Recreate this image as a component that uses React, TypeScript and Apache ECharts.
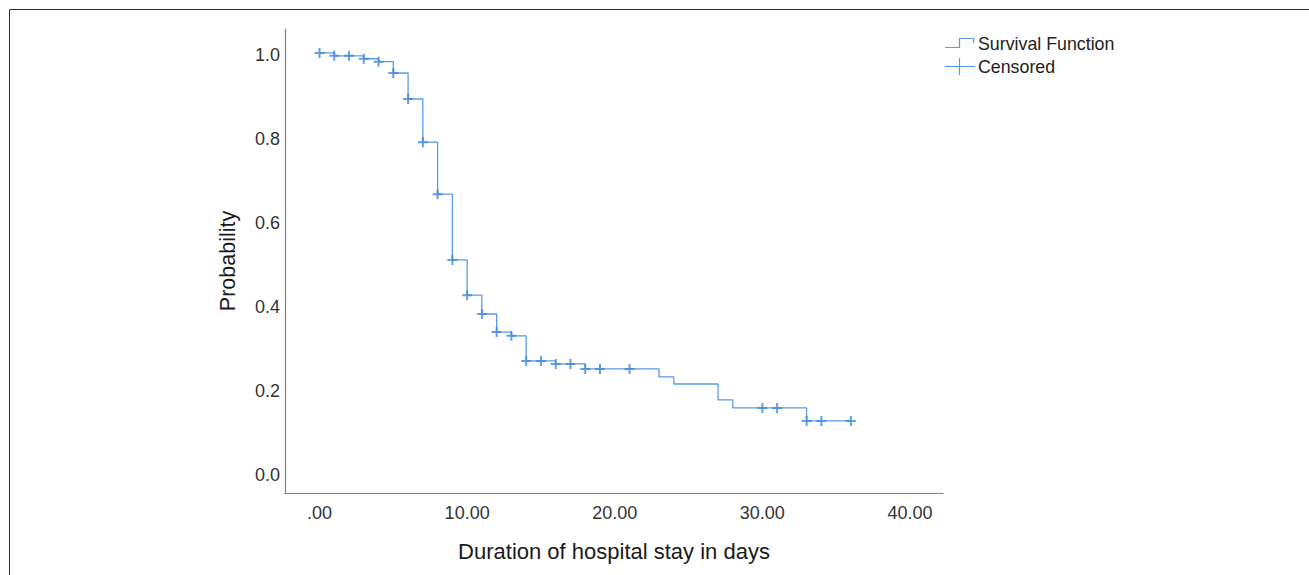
import React, { useEffect, useRef } from "react";
import * as echarts from "echarts";

// Kaplan-Meier step curve (time in days, survival probability)
const stepTimes = [0, 1, 3, 4, 5, 6, 7, 8, 9, 10, 11, 12, 13, 14, 16, 18, 23, 24, 27, 28, 33, 36];
const stepSurvival = [1.0, 0.993, 0.986, 0.979, 0.952, 0.89, 0.787, 0.663, 0.506, 0.422, 0.377, 0.334, 0.325, 0.265, 0.258, 0.246, 0.227, 0.21, 0.172, 0.153, 0.122, 0.122];

// Censored observations
const censorTimes = [0, 1, 2, 3, 4, 5, 6, 7, 8, 9, 10, 11, 12, 13, 14, 15, 16, 17, 18, 19, 21, 30, 31, 33, 34, 36];
const censorSurvival = [1.0, 0.993, 0.993, 0.986, 0.979, 0.952, 0.89, 0.787, 0.663, 0.506, 0.422, 0.377, 0.334, 0.325, 0.265, 0.265, 0.258, 0.258, 0.246, 0.246, 0.246, 0.153, 0.153, 0.122, 0.122, 0.122];

const xTickValues = [0, 10, 20, 30, 40];
const yTickValues = [0, 0.2, 0.4, 0.6, 0.8, 1.0];

const seriesNames = ["Survival Function", "Censored"];
const xAxisTitle = "Duration of hospital stay in days";
const yAxisTitle = "Probability";

const FONT = "'Liberation Sans', Arial, sans-serif";
const LINE_COLOR = "#5b9be6";
const MARK_COLOR = "#3f86dc";

export default function App() {
  const ref = useRef<HTMLDivElement>(null);

  useEffect(() => {
    if (!ref.current) return;
    const chart = echarts.init(ref.current, undefined, { renderer: "svg" });

    const lineData = stepTimes.map((t, i) => [t, stepSurvival[i]]);
    const censorData = censorTimes.map((t, i) => [t, censorSurvival[i]]);

    chart.setOption({
      animation: false,
      backgroundColor: "#ffffff",
      grid: { left: 285, right: 366, top: 29, bottom: 82, containLabel: false },
      xAxis: {
        type: "value",
        min: -2.34,
        max: 42.24,
        name: xAxisTitle,
        nameLocation: "middle",
        nameGap: 47,
        nameTextStyle: { fontFamily: FONT, fontSize: 22, color: "#1a1a1a" },
        axisLine: { show: true, onZero: false, lineStyle: { color: "#808080", width: 1.2 } },
        axisTick: { show: false },
        splitLine: { show: false },
        axisLabel: {
          customValues: xTickValues,
          margin: 11,
          fontFamily: FONT,
          fontSize: 18,
          color: "#333333",
          formatter: (v: number) => (v === 0 ? ".00" : v.toFixed(2)),
        },
      },
      yAxis: {
        type: "value",
        min: -0.05,
        max: 1.057,
        name: yAxisTitle,
        nameLocation: "middle",
        nameGap: 46,
        nameRotate: 90,
        nameTextStyle: { fontFamily: FONT, fontSize: 21.5, color: "#1a1a1a" },
        axisLine: { show: true, onZero: false, lineStyle: { color: "#808080", width: 1.2 } },
        axisTick: { show: false },
        splitLine: { show: false },
        axisLabel: {
          customValues: yTickValues,
          margin: 5,
          verticalAlign: "top",
          lineHeight: 5,
          fontFamily: FONT,
          fontSize: 18,
          color: "#333333",
          formatter: (v: number) => v.toFixed(1),
        },
      },
      series: [
        {
          name: seriesNames[0],
          type: "line",
          step: "end",
          data: lineData,
          showSymbol: false,
          lineStyle: { color: LINE_COLOR, width: 1.3 },
          silent: true,
          z: 2,
        },
        {
          name: seriesNames[1],
          type: "scatter",
          data: censorData,
          symbol: "path://M5,0 L5,10 M0,5 L10,5",
          symbolSize: 10,
          itemStyle: { color: "none", borderColor: MARK_COLOR, borderWidth: 2 },
          silent: true,
          z: 3,
        },
      ],
      graphic: [
        // outer frame (top and left edges)
        { type: "line", shape: { x1: 9.5, y1: 9.5, x2: 1309, y2: 9.5 }, style: { stroke: "#333333", lineWidth: 1 } },
        { type: "line", shape: { x1: 9.5, y1: 9.5, x2: 9.5, y2: 575 }, style: { stroke: "#333333", lineWidth: 1 } },
        // legend: survival function icon
        {
          type: "polyline",
          shape: { points: [[945, 47.5], [959.5, 47.5], [959.5, 38.5], [973.5, 38.5], [973.5, 43]] },
          style: { stroke: LINE_COLOR, lineWidth: 1.2, fill: "none" },
        },
        {
          type: "text",
          x: 978,
          y: 44,
          style: { text: seriesNames[0], fontFamily: FONT, fontSize: 17.8, fill: "#222222", verticalAlign: "middle" },
        },
        // legend: censored icon
        { type: "line", shape: { x1: 945, y1: 66.5, x2: 975, y2: 66.5 }, style: { stroke: LINE_COLOR, lineWidth: 1.2 } },
        { type: "line", shape: { x1: 959.5, y1: 58, x2: 959.5, y2: 75 }, style: { stroke: LINE_COLOR, lineWidth: 1.2 } },
        {
          type: "text",
          x: 978,
          y: 67,
          style: { text: seriesNames[1], fontFamily: FONT, fontSize: 17.8, fill: "#222222", verticalAlign: "middle" },
        },
      ],
    });

    return () => chart.dispose();
  }, []);

  return (
    <div style={{ position: "fixed", left: 0, top: 0, width: 1309, height: 575, background: "#fff" }}>
      <div ref={ref} style={{ width: 1309, height: 575 }} />
    </div>
  );
}
